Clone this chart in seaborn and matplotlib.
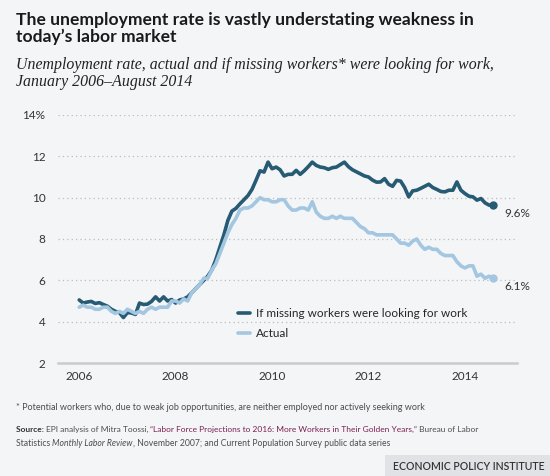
import numpy as np
import pandas as pd
import seaborn as sns
from matplotlib import pyplot as plt

# monthly, Jan 2006 - Aug 2014
actual = [
    4.7, 4.8, 4.7, 4.7, 4.6, 4.6, 4.7, 4.7, 4.5, 4.4, 4.5, 4.4,
    4.6, 4.5, 4.4, 4.5, 4.4, 4.6, 4.7, 4.6, 4.7, 4.7, 4.7, 5.0,
    5.0, 4.9, 5.1, 5.0, 5.4, 5.6, 5.8, 6.1, 6.1, 6.5, 6.8, 7.3,
    7.8, 8.3, 8.7, 9.0, 9.4, 9.5, 9.5, 9.6, 9.8, 10.0, 9.9, 9.9,
    9.8, 9.8, 9.9, 9.9, 9.6, 9.4, 9.4, 9.5, 9.5, 9.4, 9.8, 9.3,
    9.1, 9.0, 9.0, 9.1, 9.0, 9.1, 9.0, 9.0, 9.0, 8.8, 8.6, 8.5,
    8.3, 8.3, 8.2, 8.2, 8.2, 8.2, 8.2, 8.0, 7.8, 7.8, 7.7, 7.9,
    8.0, 7.7, 7.5, 7.6, 7.5, 7.5, 7.3, 7.2, 7.2, 7.2, 6.9, 6.7,
    6.6, 6.7, 6.7, 6.2, 6.3, 6.1, 6.2, 6.1,
]
missing = [
    5.05, 4.9, 4.95, 4.98, 4.88, 4.92, 4.83, 4.75, 4.6, 4.5, 4.44, 4.2,
    4.44, 4.42, 4.35, 4.9, 4.83, 4.85, 4.98, 5.2, 5.0, 5.2, 5.0, 5.07,
    4.9, 5.05, 5.1, 5.2, 5.4, 5.6, 5.8, 6.0, 6.2, 6.5, 7.0, 7.6,
    8.2, 8.9, 9.35, 9.48, 9.7, 9.9, 10.1, 10.4, 10.84, 11.3, 11.24, 11.72,
    11.4, 11.48, 11.35, 11.05, 11.13, 11.13, 11.32, 11.13, 11.3, 11.5, 11.72, 11.56,
    11.48, 11.45, 11.37, 11.45, 11.48, 11.6, 11.72, 11.5, 11.35, 11.25, 11.15, 11.05,
    11.0, 10.85, 10.75, 10.76, 10.92, 10.65, 10.55, 10.84, 10.8, 10.49, 10.04, 10.33,
    10.36, 10.45, 10.55, 10.65, 10.49, 10.4, 10.3, 10.28, 10.36, 10.36, 10.76, 10.36,
    10.2, 10.07, 10.04, 9.88, 9.96, 9.75, 9.64, 9.64,
]
series_names = ["If missing workers were looking for work", "Actual"]
year_ticks = [2006, 2008, 2010, 2012, 2014]
y_ticks = [2, 4, 6, 8, 10, 12, 14]
y_labels = ["2", "4", "6", "8", "10", "12", "14%"]
end_labels = ["9.6%", "6.1%"]

DARK = "#275a73"
LIGHT = "#a3c6e1"
BG = "#f4f5f7"

months = pd.date_range("2006-01-01", "2014-08-01", freq="MS")
t = months.year + (months.month - 1) / 12
df = pd.concat([
    pd.DataFrame({"t": t, "rate": missing, "series": series_names[0]}),
    pd.DataFrame({"t": t, "rate": actual, "series": series_names[1]}),
])

sns.set_style("white")
plt.rcParams["font.family"] = ["Lato", "DejaVu Sans"]

fig = plt.figure(figsize=(5.5, 4.76), dpi=100, facecolor=BG)
ax = fig.add_axes([58 / 550, 1 - 363 / 476, (517 - 58) / 550, (363 - 115) / 476])
ax.set_facecolor(BG)

sns.lineplot(
    data=df, x="t", y="rate", hue="series", hue_order=series_names,
    palette=[DARK, LIGHT], linewidth=2.6, ax=ax,
)
# end dots + labels
for name, col, lab in zip(series_names, [DARK, LIGHT], end_labels):
    last = df[df["series"] == name].iloc[-1]
    ax.plot(last["t"], last["rate"], "o", color=col, ms=5, zorder=5)
    ax.annotate(lab, (last["t"], last["rate"]), xytext=(8, -6),
                textcoords="offset points", fontsize=8.5, color="#333333",
                va="center", ha="left")

ax.set_xlim(2005.56, 2015.08)
ax.set_ylim(2, 14)
ax.set_yticks(y_ticks, y_labels)
ax.set_xticks(year_ticks, [str(y) for y in year_ticks])
for y in y_ticks[1:]:
    ax.axhline(y, color="#b9bcc0", lw=0.9, ls=(0, (1, 2.5)), zorder=0)
for s in ["top", "right", "left"]:
    ax.spines[s].set_visible(False)
ax.spines["bottom"].set_color("#c9cbce")
ax.spines["bottom"].set_linewidth(1.8)
ax.tick_params(axis="y", length=0, pad=9, labelsize=8.5, labelcolor="#333333")
ax.tick_params(axis="x", length=3, width=1, color="#c9cbce", pad=3,
               labelsize=8.5, labelcolor="#333333")
ax.set_xlabel("")
ax.set_ylabel("")

leg = ax.legend(loc="upper left", bbox_to_anchor=(0.38, 0.245), frameon=False,
                fontsize=8.5, handlelength=1.0, handletextpad=0.5,
                labelspacing=0.75, borderpad=0)
for line in leg.get_lines():
    line.set_linewidth(2.6)

# titles
fig.text(16 / 550, 1 - 12 / 476,
         "The unemployment rate is vastly understating weakness in\ntoday\u2019s labor market",
         fontsize=12.6, fontweight="bold", color="#1a1a1a", va="top", ha="left",
         linespacing=1.08)
fig.text(16 / 550, 1 - 57 / 476,
         "Unemployment rate, actual and if missing workers* were looking for work,\nJanuary 2006\u2013August 2014",
         fontsize=11.4, style="italic", family=["Liberation Serif", "DejaVu Serif"],
         color="#222222", va="top", ha="left", linespacing=1.05)

# footer with mixed styles
fig.canvas.draw()
renderer = fig.canvas.get_renderer()


def run_text(x, y, pieces, size=6.5):
    for txt, kw in pieces:
        tt = fig.text(x, y, txt, fontsize=size, va="center", ha="left", **kw)
        w = tt.get_window_extent(renderer).width
        x += w / (fig.get_figwidth() * fig.dpi)
    return x


grey = "#4d4d4d"
run_text(16 / 550, 1 - 408 / 476,
         [("* Potential workers who, due to weak job opportunities, are neither employed nor actively seeking work",
           dict(color=grey))])
run_text(16 / 550, 1 - 429 / 476, [
    ("Source: ", dict(color="#333333", fontweight="bold")),
    ("EPI analysis of Mitra Toossi, ", dict(color=grey)),
    ("\u201cLabor Force Projections to 2016: More Workers in Their Golden Years,\u201d",
     dict(color="#7a1f4f")),
    (" Bureau of Labor", dict(color=grey)),
], size=6.0)
run_text(16 / 550, 1 - 444 / 476, [
    ("Statistics ", dict(color=grey)),
    ("Monthly Labor Review", dict(color=grey, style="italic")),
    (", November 2007; and Current Population Survey public data series", dict(color=grey)),
], size=6.2)

fig.patches.append(plt.Rectangle((385 / 550, 0), 165 / 550, 21 / 476,
                                 transform=fig.transFigure, facecolor="#e0e2e5",
                                 edgecolor="none"))
fig.text(545 / 550, 1 - 466 / 476, "ECONOMIC POLICY INSTITUTE", fontsize=7.6,
         fontweight="semibold", family=["Liberation Sans Narrow", "Lato", "DejaVu Sans"],
         color="#333333", ha="right", va="center")

fig.savefig("out.png", dpi=100, facecolor=BG)
